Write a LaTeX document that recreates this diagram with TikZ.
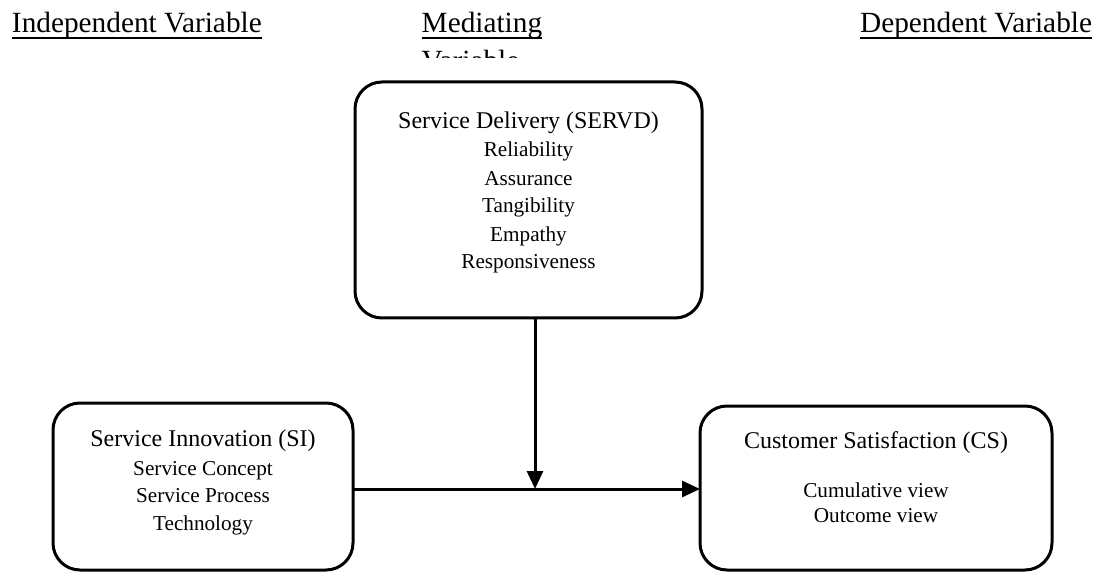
\documentclass[tikz,border=0pt]{standalone}
\usepackage{fontspec}
\setmainfont{Liberation Serif}
\usetikzlibrary{arrows.meta}

\tikzset{
  hdr/.style={inner sep=0pt, outer sep=0pt, font=\fontsize{29.3}{34}\selectfont},
  ttl/.style={inner sep=0pt, outer sep=0pt, anchor=base, font=\fontsize{24}{28}\selectfont},
  itm/.style={inner sep=0pt, outer sep=0pt, anchor=base, font=\fontsize{21.2}{25}\selectfont},
  ulin/.style={line width=2pt},
  panel/.style={draw, line width=3pt, rounded corners=27pt, inner sep=0pt, outer sep=0pt},
  flow/.style={line width=3pt, -{Triangle[length=18pt,width=16pt]}}
}

\begin{document}
\begin{tikzpicture}[x=1pt, y=-1pt]
  \useasboundingbox (0,0) rectangle (1104,572);

  % column headings
  \node[hdr, anchor=base west] (hind) at (12,33) {Independent Variable};
  \node[hdr, anchor=base west] (hmed) at (421.7,33) {Mediating};
  \node[hdr, anchor=base east] (hdep) at (1092,33) {Dependent Variable};
  \begin{scope}
    \clip (380,45) rectangle (620,57.5);
    \node[hdr, anchor=base west] (hmed2) at (421.7,71) {Variable};
  \end{scope}
  \foreach \h in {hind,hmed,hdep}
    \draw[ulin] ([yshift=-4.7pt]\h.base west) -- ([yshift=-4.7pt]\h.base east);

  % mediating construct
  \node[panel, minimum width=347pt, minimum height=236pt] (servd) at (528.5,200) {};
  \node[ttl] (servdT) at (528.5,129) {Service Delivery (SERVD)};
  \node[itm] (servd1) at (528.5,157) {Reliability};
  \node[itm] (servd2) at (528.5,185.5) {Assurance};
  \node[itm] (servd3) at (528.5,213) {Tangibility};
  \node[itm] (servd4) at (528.5,241.5) {Empathy};
  \node[itm] (servd5) at (528.5,269) {Responsiveness};

  % independent construct
  \node[panel, minimum width=300pt, minimum height=167pt] (si) at (203,486.5) {};
  \node[ttl] (siT) at (203,446) {Service Innovation (SI)};
  \node[itm] (si1) at (203,475) {Service Concept};
  \node[itm] (si2) at (203,502.5) {Service Process};
  \node[itm] (si3) at (203,530) {Technology};

  % dependent construct
  \node[panel, minimum width=352pt, minimum height=164pt] (cs) at (876,488) {};
  \node[ttl] (csT) at (876,448) {Customer Satisfaction (CS)};
  \node[itm] (cs1) at (876,497) {Cumulative view};
  \node[itm] (cs2) at (876,522) {Outcome view};

  % relations
  \coordinate (j) at (535,489);
  \draw[flow] (servd.south -| j) -- (j);
  \draw[flow] (si.east |- j) -- (cs.west |- j);
\end{tikzpicture}
\end{document}
